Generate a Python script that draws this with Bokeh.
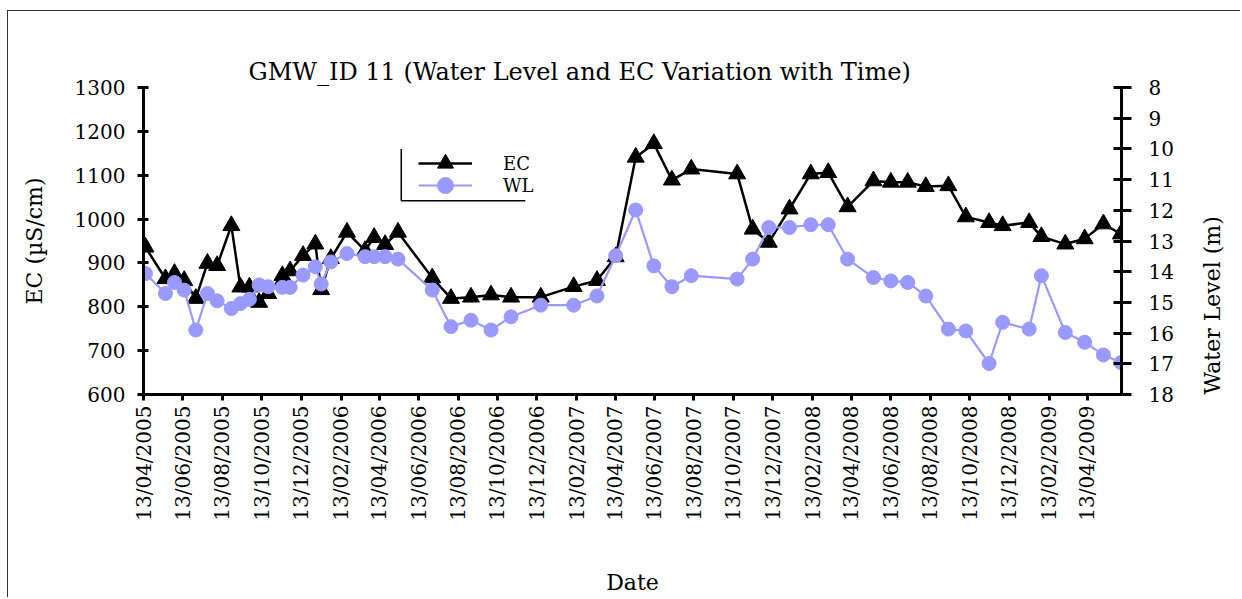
import math
from datetime import datetime
from bokeh.plotting import figure
from bokeh.models import (Range1d, LinearAxis, FixedTicker, DatetimeTickFormatter,
                          Legend, LegendItem)
from bokeh.embed import file_html
from bokeh.resources import INLINE

# ---------------- data ----------------
dates = ["2005-04-16", "2005-05-17", "2005-05-31", "2005-06-15", "2005-07-03",
         "2005-07-21", "2005-08-05", "2005-08-27", "2005-09-10", "2005-09-24",
         "2005-10-09", "2005-10-23", "2005-11-14", "2005-11-26", "2005-12-16",
         "2006-01-04", "2006-01-13", "2006-01-28", "2006-02-22", "2006-03-22",
         "2006-04-05", "2006-04-22", "2006-05-12", "2006-07-04", "2006-08-02",
         "2006-09-02", "2006-10-03", "2006-11-03", "2006-12-19", "2007-02-08",
         "2007-03-16", "2007-04-14", "2007-05-15", "2007-06-12", "2007-07-10",
         "2007-08-09", "2007-10-19", "2007-11-12", "2007-12-07", "2008-01-08",
         "2008-02-10", "2008-03-08", "2008-04-07", "2008-05-17", "2008-06-13",
         "2008-07-09", "2008-08-06", "2008-09-10", "2008-10-07", "2008-11-12",
         "2008-12-03", "2009-01-13", "2009-02-01", "2009-03-10", "2009-04-09",
         "2009-05-08", "2009-06-04"]

ec = [936, 864, 876, 860, 819, 899, 894, 985, 845, 845,
      810, 830, 871, 882, 917, 943, 839, 910, 970, 928,
      958, 942, 970, 866, 819, 822, 827, 822, 822, 846,
      860, 914, 1141, 1172, 1089, 1114, 1103, 977, 947, 1023,
      1103, 1106, 1028, 1087, 1084, 1084, 1074, 1076, 1005, 992,
      985, 992, 960, 943, 955, 989, 966]

wl = [14.06, 14.71, 14.35, 14.60, 15.90, 14.71, 14.95, 15.20, 15.04, 14.90,
      14.43, 14.49, 14.51, 14.51, 14.11, 13.84, 14.40, 13.68, 13.41, 13.51,
      13.51, 13.51, 13.59, 14.60, 15.79, 15.58, 15.90, 15.47, 15.09, 15.09,
      14.79, 13.48, 11.99, 13.81, 14.49, 14.13, 14.24, 13.59, 12.56, 12.56,
      12.47, 12.47, 13.59, 14.19, 14.30, 14.35, 14.79, 15.87, 15.93, 16.99,
      15.65, 15.87, 14.13, 15.98, 16.30, 16.71, 16.96]

tick_dates = ["2005-04-13", "2005-06-13", "2005-08-13", "2005-10-13", "2005-12-13",
              "2006-02-13", "2006-04-13", "2006-06-13", "2006-08-13", "2006-10-13",
              "2006-12-13", "2007-02-13", "2007-04-13", "2007-06-13", "2007-08-13",
              "2007-10-13", "2007-12-13", "2008-02-13", "2008-04-13", "2008-06-13",
              "2008-08-13", "2008-10-13", "2008-12-13", "2009-02-13", "2009-04-13"]

ec_ticks = [600, 700, 800, 900, 1000, 1100, 1200, 1300]
wl_ticks = [8, 9, 10, 11, 12, 13, 14, 15, 16, 17, 18]

title_text = "GMW_ID 11 (Water Level and EC Variation with Time)"

# ---------------- helpers ----------------
def dt(s):
    return datetime.strptime(s, "%Y-%m-%d")

def ms(s):
    return (dt(s) - datetime(1970, 1, 1)).total_seconds() * 1000.0

x = [dt(d) for d in dates]

FONT = "DejaVu Serif"
EC_COLOR = "black"
WL_COLOR = "#9999FF"

p = figure(width=1233, height=587, x_axis_type="datetime",
           x_range=Range1d(dt("2005-04-13"), dt("2009-06-05")),
           y_range=Range1d(600, 1300),
           output_backend="svg", toolbar_location=None,
           min_border_left=135, min_border_right=120,
           min_border_top=76, min_border_bottom=204)

p.outline_line_color = None
p.xgrid.visible = False
p.ygrid.visible = False
p.background_fill_color = "white"
p.border_fill_color = "white"

p.title.text = title_text
p.title.text_font = FONT
p.title.text_font_size = "24px"
p.title.text_font_style = "normal"
p.title.text_color = "black"
p.title.align = "left"
p.title.offset = 105
p.title.standoff = 4

# right axis (water level, inverted)
p.extra_y_ranges = {"wl": Range1d(18, 8)}
ax_r = LinearAxis(y_range_name="wl")
p.add_layout(ax_r, "right")

# x axis
ax_x = p.xaxis[0]
ax_x.ticker = FixedTicker(ticks=[ms(t) for t in tick_dates])
fmt = "%d/%m/%Y"
ax_x.formatter = DatetimeTickFormatter(milliseconds=fmt, seconds=fmt, minsec=fmt,
                                       minutes=fmt, hourmin=fmt, hours=fmt, days=fmt,
                                       months=fmt, years=fmt)
ax_x.major_label_orientation = math.pi / 2
ax_x.axis_label = "Date"
ax_x.axis_label_standoff = 46
ax_x.major_tick_in = 0
ax_x.major_tick_out = 6
ax_x.major_label_standoff = 5

ax_l = p.yaxis[0]
ax_l.ticker = FixedTicker(ticks=ec_ticks)
ax_l.axis_label = "EC (µS/cm)"
ax_l.major_tick_in = 5
ax_l.major_tick_out = 6
ax_l.major_label_standoff = 12
ax_l.axis_label_standoff = 25

ax_r.ticker = FixedTicker(ticks=wl_ticks)
ax_r.major_tick_in = 8
ax_r.major_tick_out = 10
ax_r.major_label_standoff = 17

for ax in (ax_x, ax_l, ax_r):
    ax.minor_tick_line_color = None
    ax.axis_line_width = 3
    ax.axis_line_color = "black"
    ax.major_tick_line_width = 3
    ax.major_tick_line_color = "black"
    ax.major_label_text_font = FONT
    ax.major_label_text_font_size = "20px"
    ax.major_label_text_color = "black"
    ax.axis_label_text_font = FONT
    ax.axis_label_text_font_size = "22px"
    ax.axis_label_text_font_style = "normal"
    ax.axis_label_text_color = "black"

# right axis title, reading bottom-to-top
ax_r.axis_label = "Water Level (m)"
ax_r.axis_label_standoff = 36
props = ax_r.properties()
if "axis_label_orientation" in props:
    ax_r.axis_label_orientation = math.pi / 2
if "axis_label_align" in props:
    ax_r.axis_label_align = "end"

# ---------------- series ----------------
ec_line = p.line(x, ec, line_color=EC_COLOR, line_width=2.5)
ec_pts = p.scatter(x, ec, marker="triangle", size=17, fill_color=EC_COLOR,
                   line_color=EC_COLOR)
wl_line = p.line(x, wl, y_range_name="wl", line_color=WL_COLOR, line_width=2.2)
wl_pts = p.scatter(x, wl, y_range_name="wl", marker="circle", size=14,
                   fill_color=WL_COLOR, line_color=WL_COLOR)

# legend (one Legend per entry so the rows can sit close together)
leg_style = dict(orientation="vertical", glyph_width=54, glyph_height=40,
                 label_height=40, label_standoff=31, spacing=0, padding=0, margin=0,
                 border_line_color=None, background_fill_alpha=0,
                 label_text_font=FONT, label_text_font_size="18px",
                 label_text_color="black")
leg_ec = Legend(items=[LegendItem(label="EC", renderers=[ec_line, ec_pts])],
                location=(275, 211), **leg_style)
leg_wl = Legend(items=[LegendItem(label="WL", renderers=[wl_line, wl_pts])],
                location=(275, 189), **leg_style)
p.add_layout(leg_ec, "center")
p.add_layout(leg_wl, "center")

# legend frame (left and bottom edges only, as in the original)
p.segment(x0=[dt("2006-05-17"), dt("2006-05-17")], y0=[1160, 1042],
          x1=[dt("2006-05-17"), dt("2006-11-25")], y1=[1042, 1042],
          line_color="black", line_width=1.5)

p.styles = {"margin-left": "7px", "margin-top": "10px",
            "border-top": "1px solid #333333", "border-left": "1px solid #333333"}

open("out.html", "w").write(file_html(p, INLINE))
